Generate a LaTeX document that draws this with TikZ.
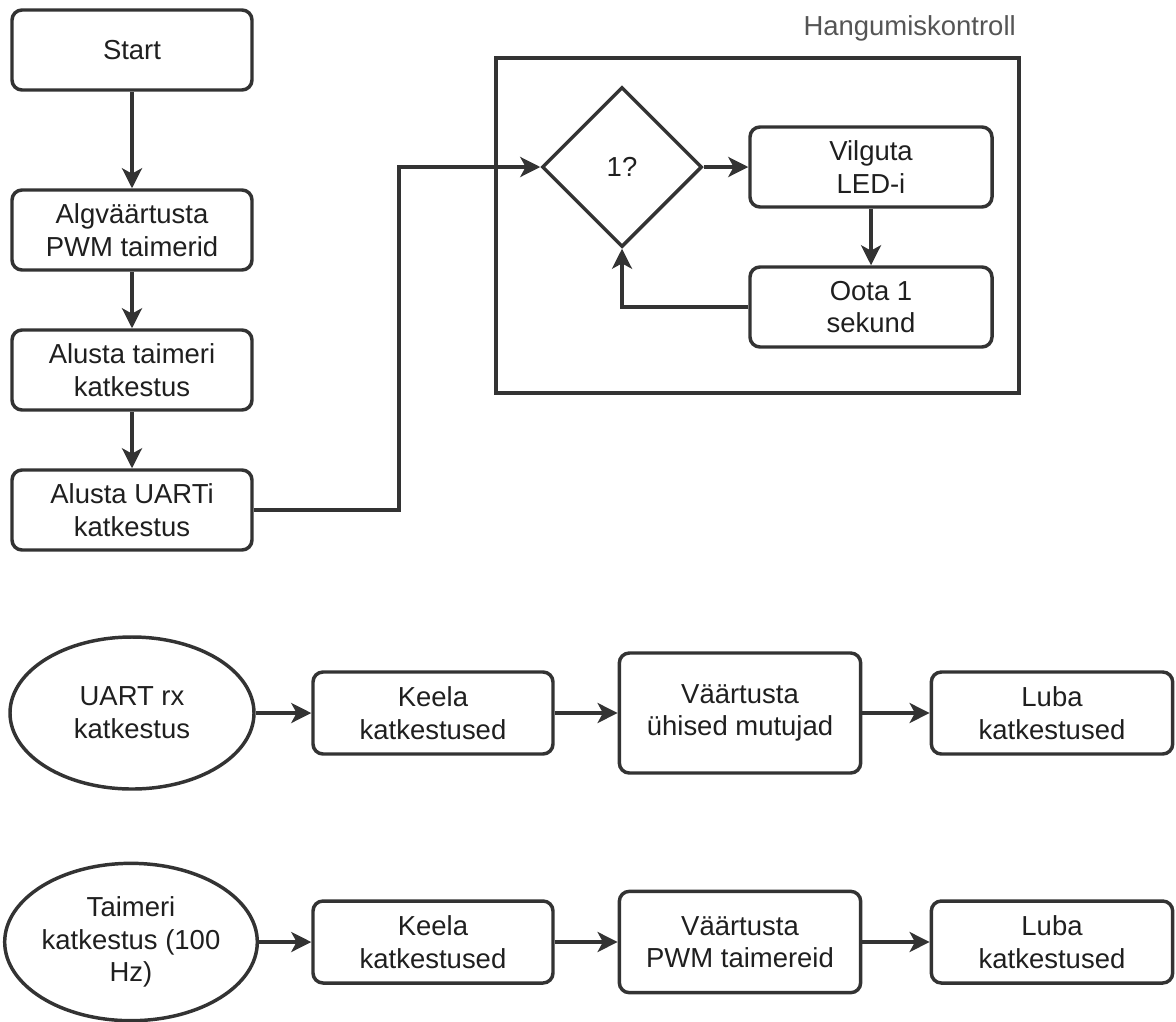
\documentclass[tikz,border=0pt]{standalone}
\usepackage{fontspec}
\setmainfont{Liberation Sans}
\usetikzlibrary{arrows.meta,shapes.geometric}
\definecolor{ink}{HTML}{333333}
\definecolor{txt}{HTML}{1F1F1F}
\definecolor{lbl}{HTML}{555555}
\tikzset{
  base/.style={draw=ink, line width=2.6pt, text=txt, align=center, inner sep=2pt,
    font=\fontsize{20.6pt}{24.5pt}\selectfont},
  stepbox/.style={base, rounded corners=7.5pt, minimum width=180pt, minimum height=60pt},
  ellnode/.style={base, ellipse, inner sep=0pt},
  decision/.style={base, diamond, minimum width=120pt, minimum height=120pt, inner sep=0pt},
  group/.style={draw=ink, line width=2.6pt, minimum width=392pt, minimum height=251pt, inner sep=0pt},
  flow/.style={draw=ink, line width=2.6pt, -{Stealth[length=15pt,width=15pt,inset=4pt]}},
}
\begin{document}
\begin{tikzpicture}[x=0.75pt,y=-0.75pt]
\useasboundingbox (0,0) rectangle (1176,1021);

% main sequence
\node[stepbox] (start) at (132,50) {Start};
\node[stepbox] (init)  at (132,230) {Algväärtusta\\PWM taimerid};
\node[stepbox] (tmr)   at (132,370) {Alusta taimeri\\katkestus};
\node[stepbox] (uart)  at (132,510) {Alusta UARTi\\katkestus};

% watchdog group
\node[group] (hang) at (757.5,225.5) {};
\node[anchor=east, text=lbl, font=\fontsize{20.6pt}{24.5pt}\selectfont, inner sep=0pt] (hanglbl) at (1016,28) {Hangumiskontroll};
\node[decision] (dia) at (622,167) {1?};
\node[stepbox, minimum width=181.5pt] (vil)  at (871,167) {Vilguta\\LED-i};
\node[stepbox, minimum width=181.5pt] (oota) at (871,307) {Oota 1\\sekund};

% UART interrupt row
\node[ellnode, minimum width=183pt, minimum height=114pt] (uirq) at (132,713) {UART rx\\katkestus};
\node[stepbox, minimum height=61.5pt] (keela1) at (433,713) {Keela\\katkestused};
\node[stepbox, minimum width=181pt, minimum height=90pt] (vaart1) at (740,713) {Väärtusta\\ühised mutujad};
\node[stepbox, minimum width=181pt, minimum height=61.5pt] (luba1) at (1052,713) {Luba\\katkestused};

% timer interrupt row
\node[ellnode, minimum width=182pt, minimum height=118pt] (tirq) at (131,942) {Taimeri\\katkestus (100\\Hz)};
\node[stepbox, minimum height=61.5pt] (keela2) at (433,942) {Keela\\katkestused};
\node[stepbox, minimum width=181pt, minimum height=76pt] (vaart2) at (740,942) {Väärtusta\\PWM taimereid};
\node[stepbox, minimum width=181pt, minimum height=61.5pt] (luba2) at (1052,942) {Luba\\katkestused};

% connectors
\draw[flow] (start) -- (init);
\draw[flow] (init) -- (tmr);
\draw[flow] (tmr) -- (uart);
\coordinate (bend) at (399,510);
\draw[flow] (uart.east) -- (bend) |- (dia.west);
\draw[flow] (dia.east) -- (vil.west);
\draw[flow] (vil) -- (oota);
\draw[flow] (oota.west) -| (dia.south);

\draw[flow] (uirq) -- (keela1);
\draw[flow] (keela1) -- (vaart1);
\draw[flow] (vaart1) -- (luba1);

\draw[flow] (tirq) -- (keela2);
\draw[flow] (keela2) -- (vaart2);
\draw[flow] (vaart2) -- (luba2);
\end{tikzpicture}
\end{document}
